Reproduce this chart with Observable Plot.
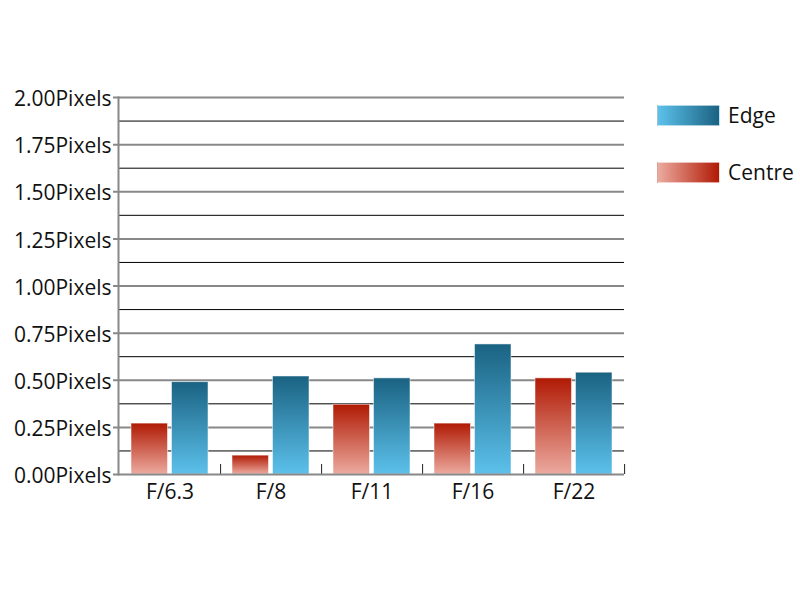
<!DOCTYPE html>
<html>
<head>
<meta charset="utf-8">
<script src="https://cdn.jsdelivr.net/npm/d3@7"></script>
<script src="https://cdn.jsdelivr.net/npm/@observablehq/plot@0.6"></script>
<style>
  html, body { margin: 0; padding: 0; background: #fff; }
  #wrap { position: relative; width: 800px; height: 600px; font-family: "Open Sans", sans-serif; }
  .legend { position: absolute; left: 657px; display: flex; align-items: center; font-size: 21px; line-height: 21px; height: 21px; color: #111; }
  .sw { width: 63px; height: 21px; margin-right: 8px; box-sizing: border-box; border: 1px solid rgba(255,255,255,0.6); }
</style>
</head>
<body>
<div id="wrap"></div>
<script>
const fstops = ["F/6.3", "F/8", "F/11", "F/16", "F/22"];
const series = ["Centre", "Edge"];
const centreValues = [0.27, 0.10, 0.37, 0.27, 0.51];
const edgeValues = [0.49, 0.52, 0.51, 0.69, 0.54];
const majorTicks = [0, 0.25, 0.5, 0.75, 1.0, 1.25, 1.5, 1.75, 2.0];
const minorTicks = [0.125, 0.375, 0.625, 0.875, 1.125, 1.375, 1.625, 1.875];

const centreData = fstops.map((f, i) => ({f, s: "Centre", v: centreValues[i]}));
const edgeData = fstops.map((f, i) => ({f, s: "Edge", v: edgeValues[i]}));

const W = 800, H = 600, mL = 118, mR = 176, mT = 97, mB = 126;
const band = (W - mL - mR) / fstops.length;
const font = "Open Sans, sans-serif";

const plot = Plot.plot({
  width: W,
  height: H,
  marginLeft: mL,
  marginRight: mR,
  marginTop: mT,
  marginBottom: mB,
  style: {fontFamily: font, fontSize: "21px", color: "#111", background: "transparent"},
  x: {domain: fstops, padding: 0, axis: null, label: null},
  y: {domain: [0, 2], axis: null, label: null},
  marks: [
    () => {
      const ns = "http://www.w3.org/2000/svg";
      const defs = document.createElementNS(ns, "defs");
      defs.innerHTML = `
        <linearGradient id="gEdge" x1="0" y1="0" x2="0" y2="1">
          <stop offset="0" stop-color="#1a6282"/>
          <stop offset="1" stop-color="#5cc1eb"/>
        </linearGradient>
        <linearGradient id="gCentre" x1="0" y1="0" x2="0" y2="1">
          <stop offset="0" stop-color="#b01a04"/>
          <stop offset="1" stop-color="#ecaa9f"/>
        </linearGradient>`;
      return defs;
    },
    Plot.ruleY(minorTicks, {stroke: "#000", strokeWidth: 1}),
    Plot.ruleY(majorTicks.slice(1), {stroke: "#888", strokeWidth: 2, insetLeft: -5}),
    Plot.barY(centreData, {x: "f", y: "v", fill: "url(#gCentre)", insetLeft: 12, insetRight: 52.5, stroke: "#fff", strokeOpacity: 0.5, strokeWidth: 1}),
    Plot.barY(edgeData, {x: "f", y: "v", fill: "url(#gEdge)", insetLeft: 52.5, insetRight: 12, stroke: "#fff", strokeOpacity: 0.5, strokeWidth: 1}),
    Plot.ruleX(fstops, {x: d => d, dx: band / 2, stroke: "#222", strokeWidth: 1, insetTop: (H - mT - mB) - 10}),
    Plot.ruleY([0], {stroke: "#888", strokeWidth: 2, insetLeft: -5}),
    Plot.frame({anchor: "left", stroke: "#888", strokeWidth: 2}),
    Plot.axisY({ticks: majorTicks, tickFormat: d => d.toFixed(2) + "Pixels", tickSize: 0, tickPadding: 7, dy: 2, fontSize: 21, fill: "#111", label: null}),
    Plot.axisX({tickSize: 0, tickPadding: 10, fontSize: 21, fill: "#111", label: null})
  ]
});

const wrap = document.getElementById("wrap");
wrap.appendChild(plot);

const legendItems = [
  {label: "Edge", top: 105, grad: "linear-gradient(to right, #5cc1eb, #1a6282)"},
  {label: "Centre", top: 162, grad: "linear-gradient(to right, #ecaa9f, #b01a04)"}
];
for (const it of legendItems) {
  const d = document.createElement("div");
  d.className = "legend";
  d.style.top = it.top + "px";
  const sw = document.createElement("div");
  sw.className = "sw";
  sw.style.background = it.grad;
  const t = document.createElement("span");
  t.textContent = it.label;
  d.appendChild(sw);
  d.appendChild(t);
  wrap.appendChild(d);
}
</script>
</body>
</html>
